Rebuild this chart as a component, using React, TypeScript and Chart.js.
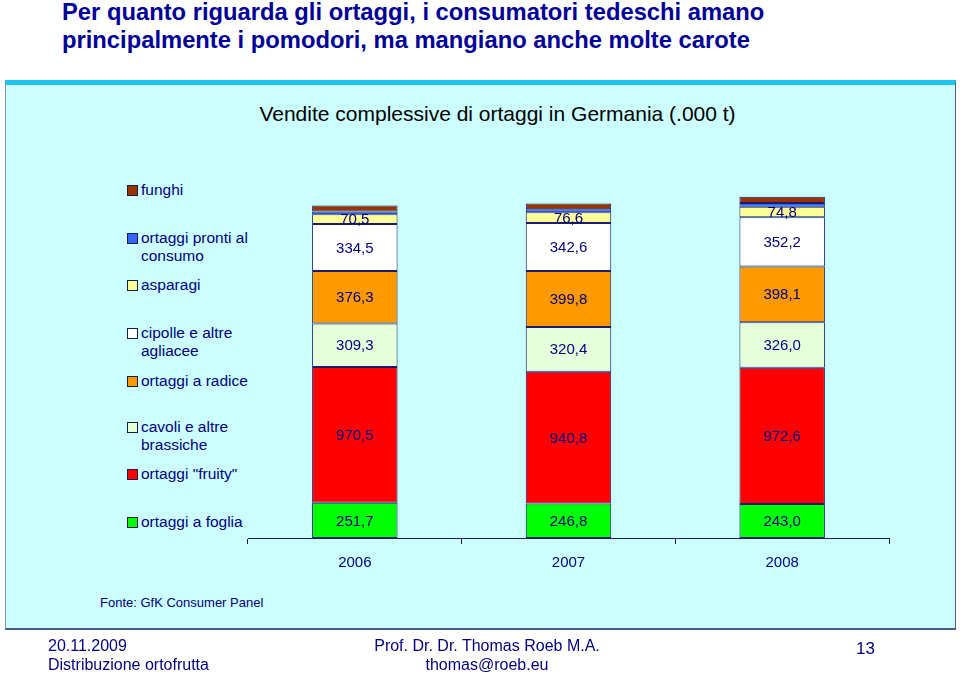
import React, { useEffect, useRef } from "react";
import { Chart, registerables } from "chart.js";

Chart.register(...registerables);

const years = ["2006", "2007", "2008"];
const foglia = [251.7, 246.8, 243.0];
const fruity = [970.5, 940.8, 972.6];
const cavoli = [309.3, 320.4, 326.0];
const radice = [376.3, 399.8, 398.1];
const cipolle = [334.5, 342.6, 352.2];
const asparagi = [70.5, 76.6, 74.8];
const pronti = [20, 22, 27];
const funghi = [42, 40, 43];

const seriesNames = [
  "ortaggi a foglia",
  'ortaggi "fruity"',
  "cavoli e altre brassiche",
  "ortaggi a radice",
  "cipolle e altre agliacee",
  "asparagi",
  "ortaggi pronti al consumo",
  "funghi",
];
const seriesColors = ["#00FF00", "#FF0000", "#E8FFDC", "#FF9900", "#FFFFFF", "#FFFF99", "#3366FF", "#993300"];
const labelled = [true, true, true, true, true, true, false, false];

const legendItems = [
  { lines: ["funghi"], color: "#993300", top: 181 },
  { lines: ["ortaggi pronti al", "consumo"], color: "#3366FF", top: 229 },
  { lines: ["asparagi"], color: "#FFFF99", top: 276 },
  { lines: ["cipolle e altre", "agliacee"], color: "#FFFFFF", top: 324 },
  { lines: ["ortaggi a radice"], color: "#FF9900", top: 372 },
  { lines: ["cavoli e altre", "brassiche"], color: "#E8FFDC", top: 418 },
  { lines: ['ortaggi "fruity"'], color: "#FF0000", top: 465 },
  { lines: ["ortaggi a foglia"], color: "#00FF00", top: 513 },
];

const NAVY = "#000080";
const FONT = "'Liberation Sans', Arial, sans-serif";

const valueLabels = {
  id: "valueLabels",
  afterDatasetsDraw(chart: any) {
    const ctx = chart.ctx;
    ctx.save();
    ctx.font = `15px ${FONT}`;
    ctx.fillStyle = NAVY;
    ctx.textAlign = "center";
    ctx.textBaseline = "middle";
    chart.data.datasets.forEach((ds: any, i: number) => {
      if (!labelled[i]) return;
      const meta = chart.getDatasetMeta(i);
      meta.data.forEach((bar: any, j: number) => {
        const v = ds.data[j] as number;
        const y = (bar.y + bar.base) / 2;
        ctx.fillText(v.toFixed(1).replace(".", ","), bar.x, y + 1);
      });
    });
    ctx.restore();
  },
};

export default function App() {
  const ref = useRef<HTMLCanvasElement>(null);
  useEffect(() => {
    if (!ref.current) return;
    const all = [foglia, fruity, cavoli, radice, cipolle, asparagi, pronti, funghi];
    const chart = new Chart(ref.current, {
      type: "bar",
      data: {
        labels: years,
        datasets: all.map((d, i) => ({
          label: seriesNames[i],
          data: d,
          backgroundColor: seriesColors[i],
          borderColor: "#1A1A70",
          borderWidth: 1,
          borderSkipped: false,
          barPercentage: 0.4,
          categoryPercentage: 1,
        })),
      },
      options: {
        responsive: false,
        animation: false,
        layout: { padding: { left: 248, right: 71, top: 174, bottom: 94 } },
        plugins: { legend: { display: false }, tooltip: { enabled: false }, title: { display: false } },
        scales: {
          x: {
            stacked: true,
            grid: { display: true, drawOnChartArea: false, offset: true, tickLength: 6, color: "#1A1A70" },
            border: { display: true, color: "#1A1A70", width: 1 },
            ticks: { color: NAVY, font: { family: FONT, size: 15 }, padding: 10, maxRotation: 0 },
          },
          y: { stacked: true, display: false, min: 0, max: 2600 },
        },
      },
      plugins: [valueLabels],
    });
    return () => chart.destroy();
  }, []);

  const txt: React.CSSProperties = { position: "absolute", fontFamily: FONT, color: NAVY, whiteSpace: "nowrap" };

  return (
    <div style={{ position: "absolute", left: 0, top: 0, width: 960, height: 676, background: "#FFFFFF", overflow: "hidden" }}>
      <div
        style={{
          ...txt,
          left: 62,
          top: -2,
          fontSize: 24,
          fontWeight: "bold",
          lineHeight: "28px",
          color: "#000099",
          transform: "scaleX(0.99)",
          transformOrigin: "left top",
        }}
      >
        Per quanto riguarda gli ortaggi, i consumatori tedeschi amano
        <br />
        principalmente i pomodori, ma mangiano anche molte carote
      </div>
      <div
        style={{
          position: "absolute",
          left: 5,
          top: 80,
          width: 949,
          height: 543,
          background: "#CCFFFF",
          borderTop: "5px solid #1CC6EE",
          borderLeft: "1px solid #8A90B0",
          borderRight: "1px solid #5A6090",
          borderBottom: "2px solid #505A8A",
        }}
      />
      <div style={{ ...txt, left: 0, width: 995, top: 102, textAlign: "center", fontSize: 21, color: "#000000", lineHeight: "24px" }}>
        Vendite complessive di ortaggi in Germania (.000 t)
      </div>
      {legendItems.map((it, i) => (
        <div key={i} style={{ position: "absolute", left: 127, top: it.top }}>
          <div
            style={{
              position: "absolute",
              left: 0,
              top: 4,
              width: 9,
              height: 9,
              background: it.color,
              border: "1px solid #1A1A50",
            }}
          />
          <div style={{ ...txt, left: 14, top: 0, fontSize: 15.5, lineHeight: "18px" }}>
            {it.lines.map((l, k) => (
              <div key={k}>{l}</div>
            ))}
          </div>
        </div>
      ))}
      <div style={{ ...txt, left: 100, top: 595, fontSize: 13, lineHeight: "16px" }}>Fonte: GfK Consumer Panel</div>
      <canvas ref={ref} width={960} height={676} style={{ position: "absolute", left: 0, top: 0, width: 960, height: 676 }} />
      <div style={{ ...txt, left: 48, top: 636, fontSize: 16, lineHeight: "19px" }}>
        20.11.2009
        <br />
        Distribuzione ortofrutta
      </div>
      <div style={{ ...txt, left: 337, width: 300, top: 636, fontSize: 16, lineHeight: "19px", textAlign: "center" }}>
        Prof. Dr. Dr. Thomas Roeb M.A.
        <br />
        thomas@roeb.eu
      </div>
      <div style={{ ...txt, left: 856, top: 639, fontSize: 17, lineHeight: "20px" }}>13</div>
    </div>
  );
}
